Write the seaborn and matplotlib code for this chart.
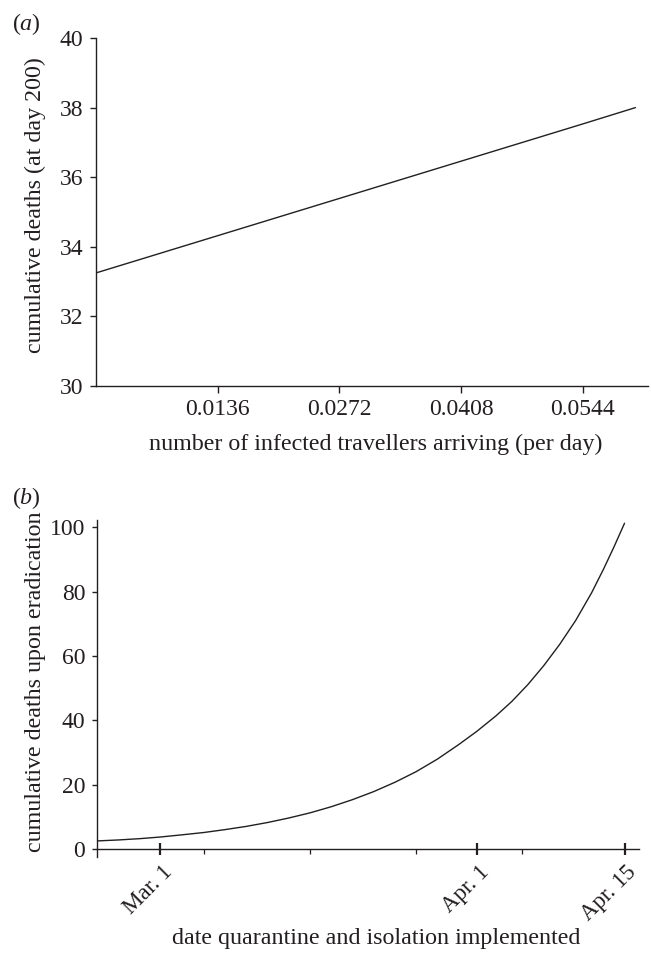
import matplotlib
matplotlib.use("Agg")
import matplotlib.pyplot as plt
import seaborn as sns
import pandas as pd
from matplotlib.transforms import ScaledTranslation

# ---------------- data ----------------
# panel (a)
travellers = [0.0, 0.0136, 0.0272, 0.0408, 0.0544, 0.0603]
deaths_day200 = [33.25, 34.32, 35.39, 36.46, 37.53, 38.0]
a_xticks = [0.0136, 0.0272, 0.0408, 0.0544]
a_xticklabels = ["0.0136", "0.0272", "0.0408", "0.0544"]
a_yticks = [30, 32, 34, 36, 38, 40]

# panel (b)  (x = days after start of axis)
start_day = [0, 2, 4, 5.9, 8, 10, 12, 14, 16, 18, 20, 22, 24, 26, 28, 30, 32, 34,
             35.7, 37.5, 39, 40.5, 42, 43.5, 45, 46.5, 47.6, 48.6, 49.6]
deaths_eradication = [2.6, 2.9, 3.3, 3.8, 4.5, 5.2, 6.1, 7.1, 8.3, 9.7, 11.3, 13.2,
                      15.4, 17.9, 20.8, 24.1, 28.0, 32.5, 36.6, 41.4, 45.9, 51.1,
                      57.0, 63.6, 71.0, 79.6, 86.8, 93.8, 101.2]
b_date_pos = [5.9, 35.7, 49.6]
b_date_labels = ["Mar. 1", "Apr. 1", "Apr. 15"]
b_minor_pos = [10, 20, 30, 40]
b_yticks = [0, 20, 40, 60, 80, 100]

# ---------------- style ----------------
sns.set_theme(style="ticks")
plt.rcParams["font.family"] = ["Liberation Serif", "DejaVu Serif"]
plt.rcParams["mathtext.fontset"] = "custom"
plt.rcParams["mathtext.rm"] = "Liberation Serif"
plt.rcParams["mathtext.it"] = "Liberation Serif:italic"
ink = "#231f20"
TICK_FS = 17
LABEL_FS = 17.3

fig = plt.figure(figsize=(6.51, 9.6), dpi=100)
W, H = 651.0, 960.0

ax1 = fig.add_axes([96.1 / W, 1 - 386 / H, (648 - 96.1) / W, (386 - 38) / H])
ax2 = fig.add_axes([97.3 / W, 1 - 856.7 / H, (639 - 97.3) / W, (856.7 - 520) / H])

df_a = pd.DataFrame({"travellers": travellers, "deaths": deaths_day200})
df_b = pd.DataFrame({"day": start_day, "deaths": deaths_eradication})

sns.lineplot(data=df_a, x="travellers", y="deaths", ax=ax1, color=ink, linewidth=1.0)
sns.lineplot(data=df_b, x="day", y="deaths", ax=ax2, color=ink, linewidth=1.0)

for ax in (ax1, ax2):
    for s in ("top", "right"):
        ax.spines[s].set_visible(False)
    for s in ("left", "bottom"):
        ax.spines[s].set_color(ink)
        ax.spines[s].set_linewidth(1.0)

# ---- panel (a) ----
ax1.set_xlim(0, 0.0617)
ax1.set_ylim(30, 40)
ax1.set_xticks(a_xticks, a_xticklabels)
ax1.set_yticks(a_yticks, [str(v) for v in a_yticks])
ax1.tick_params(axis="x", direction="out", length=4.8, width=1.0, pad=4.5,
                colors=ink, labelsize=TICK_FS)
ax1.tick_params(axis="y", direction="out", length=4.0, width=1.0, pad=5,
                colors=ink, labelsize=TICK_FS)
ax1.set_xlabel("number of infected travellers arriving (per day)", fontsize=LABEL_FS, color=ink)
ax1.set_ylabel("cumulative deaths (at day 200)", fontsize=LABEL_FS, color=ink)
ax1.xaxis.set_label_coords((376 - 96.1) / (648 - 96.1), (386 - 433.5) / (386 - 38))
ax1.yaxis.set_label_coords((46.5 - 96.1) / (648 - 96.1), 0.52)

# ---- panel (b) ----
ax2.set_xlim(0, 50.96)
ax2.set_ylim(-2.3, 102.2)
ax2.spines["bottom"].set_position(("data", 0))
ax2.set_yticks(b_yticks, [str(v) for v in b_yticks])
ax2.set_xticks(b_minor_pos, minor=True)
ax2.set_xticks(b_date_pos, b_date_labels, rotation=45, ha="right", va="top",
               rotation_mode="anchor")
ax2.tick_params(axis="x", which="major", direction="inout", length=8, width=1.6,
                pad=6, colors=ink, labelsize=16.5)
ax2.tick_params(axis="x", which="minor", direction="out", length=3.6, width=0.9,
                colors=ink)
ax2.tick_params(axis="y", direction="out", length=3.6, width=1.0, pad=5,
                colors=ink, labelsize=TICK_FS)
offset = ScaledTranslation(1.5 / 100, 1.5 / 100, fig.dpi_scale_trans)
for lab in ax2.get_xticklabels():
    lab.set_transform(lab.get_transform() + offset)
ax2.set_xlabel("date quarantine and isolation implemented", fontsize=LABEL_FS, color=ink)
ax2.set_ylabel("cumulative deaths upon eradication", fontsize=LABEL_FS, color=ink)
ax2.xaxis.set_label_coords((376 - 97.3) / (639 - 97.3), (856.7 - 928) / (856.7 - 520))
ax2.yaxis.set_label_coords((46.5 - 97.3) / (639 - 97.3), 0.52)

# panel letters
fig.text(26.5 / W, 1 - 24 / H, r"($\mathit{a}$)", fontsize=LABEL_FS, color=ink,
         ha="center", va="center")
fig.text(26.5 / W, 1 - 498 / H, r"($\mathit{b}$)", fontsize=LABEL_FS, color=ink,
         ha="center", va="center")

fig.savefig("out.png", dpi=100)
